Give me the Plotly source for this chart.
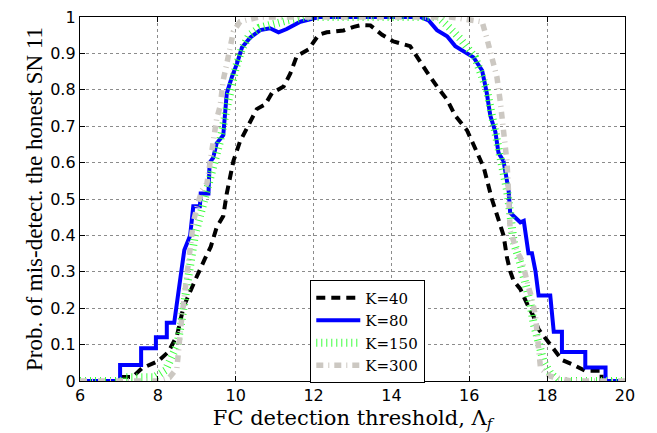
import plotly.graph_objects as go

# ---- data ----
k40_x = [6, 7.1, 7.1, 7.35, 7.59, 8.01, 8.27, 8.49, 8.66, 8.87, 9.0, 9.21, 9.36, 9.51, 9.68, 9.77, 9.94,
         10.11, 10.33, 10.54, 10.76, 10.93, 11.23, 11.4, 11.57, 11.87, 12.13, 12.34, 12.77, 13.03, 13.24,
         13.46, 13.76, 14.05, 14.48, 14.66, 14.91, 15.17, 15.43, 15.64, 15.94, 16.11, 16.37, 16.58, 16.71,
         16.88, 16.97, 17.05, 17.14, 17.31, 17.48, 17.65, 17.78, 18.04, 18.21, 18.38, 18.68, 18.98, 19.4,
         19.4, 20]
k40_y = [0, 0, 0.011, 0.011, 0.035, 0.055, 0.08, 0.124, 0.204, 0.258, 0.287, 0.336, 0.369, 0.422, 0.453,
         0.515, 0.604, 0.658, 0.702, 0.747, 0.76, 0.791, 0.809, 0.844, 0.893, 0.911, 0.951, 0.958, 0.963,
         0.973, 0.978, 0.977, 0.951, 0.933, 0.92, 0.889, 0.849, 0.809, 0.773, 0.729, 0.689, 0.649, 0.587,
         0.5, 0.453, 0.4, 0.338, 0.302, 0.275, 0.253, 0.213, 0.178, 0.142, 0.107, 0.084, 0.058, 0.044,
         0.028, 0.028, 0, 0]

k80_x = [6, 7.03, 7.03, 7.57, 7.57, 7.95, 7.95, 8.23, 8.23, 8.42, 8.61, 8.68, 8.83, 8.87, 8.91, 9.08,
         9.1, 9.3, 9.33, 9.42, 9.51, 9.68, 9.77, 9.9, 10.03, 10.16, 10.37, 10.63, 10.88, 11.1, 11.31, 11.66,
         12.0, 12.15, 14.74, 14.95, 15.17, 15.43, 15.64, 15.9, 16.11, 16.33, 16.45, 16.54, 16.67, 16.75,
         16.88, 17.01, 17.05, 17.18, 17.31, 17.4, 17.52, 17.61, 17.7, 17.78, 18.08, 18.17, 18.38, 18.38,
         18.98, 18.98, 19.5, 19.5, 20]
k80_y = [0, 0, 0.044, 0.044, 0.09, 0.09, 0.12, 0.12, 0.16, 0.16, 0.307, 0.36, 0.4, 0.453, 0.48, 0.48,
         0.515, 0.515, 0.6, 0.613, 0.653, 0.675, 0.79, 0.835, 0.871, 0.916, 0.943, 0.964, 0.969, 0.958,
         0.967, 0.987, 0.995, 1.0, 1.0, 0.991, 0.964, 0.947, 0.92, 0.902, 0.889, 0.853, 0.791, 0.729, 0.684,
         0.627, 0.604, 0.524, 0.462, 0.449, 0.436, 0.44, 0.351, 0.351, 0.302, 0.235, 0.235, 0.135, 0.135,
         0.08, 0.08, 0.037, 0.037, 0, 0]

k150_x = [6, 7.1, 7.1, 7.9, 8.2, 8.35, 8.5, 8.6, 8.68, 8.75, 8.85, 8.95, 9.05, 9.15, 9.3, 9.4, 9.5, 9.6,
          9.75, 9.85, 10.0, 10.15, 10.35, 10.6, 10.9, 11.3, 11.8, 15.2, 15.5, 15.77, 16.15, 16.45, 16.58,
          16.71, 16.84, 16.97, 17.05, 17.14, 17.31, 17.44, 17.57, 17.65, 17.78, 17.91, 18.08, 18.2, 18.3, 20]
k150_y = [0, 0, 0.01, 0.01, 0.03, 0.06, 0.1, 0.16, 0.22, 0.28, 0.33, 0.4, 0.44, 0.48, 0.52, 0.57, 0.62,
          0.66, 0.74, 0.8, 0.86, 0.91, 0.95, 0.97, 0.98, 0.99, 1.0, 1.0, 0.97, 0.94, 0.889, 0.8, 0.73,
          0.667, 0.587, 0.524, 0.462, 0.382, 0.324, 0.275, 0.213, 0.16, 0.098, 0.053, 0.022, 0.01, 0, 0]

k300_x = [6, 8.0, 8.3, 8.49, 8.59, 8.64, 8.70, 8.77, 8.85, 8.91, 9.02, 9.13, 9.26, 9.39, 9.51, 9.6, 9.68,
          9.77, 9.86, 9.94, 10.11, 10.37, 10.6, 15.5, 15.9, 16.1, 16.33, 16.45, 16.58, 16.71, 16.8, 16.88,
          16.92, 16.97, 17.01, 17.05, 17.23, 17.36, 17.52, 17.61, 17.7, 17.74, 17.78, 17.83, 18.08, 18.5,
          18.6, 20]
k300_y = [0, 0, 0.01, 0.035, 0.151, 0.195, 0.258, 0.329, 0.382, 0.436, 0.484, 0.524, 0.542, 0.64, 0.72,
          0.755, 0.827, 0.871, 0.924, 0.96, 0.987, 0.993, 1.0, 1.0, 0.995, 0.99, 0.987, 0.942, 0.889, 0.835,
          0.764, 0.693, 0.631, 0.6, 0.515, 0.413, 0.355, 0.329, 0.258, 0.227, 0.178, 0.133, 0.08, 0.035,
          0.013, 0.003, 0, 0]

x_ticks = [6, 8, 10, 12, 14, 16, 18, 20]
y_ticks = [0, 0.1, 0.2, 0.3, 0.4, 0.5, 0.6, 0.7, 0.8, 0.9, 1]
y_tick_text = ["0", "0.1", "0.2", "0.3", "0.4", "0.5", "0.6", "0.7", "0.8", "0.9", "1"]

SERIF_W = "DejaVu Serif"
SERIF = "Liberation Serif"
SANS = "DejaVu Sans"

fig = go.Figure()
fig.add_trace(go.Scatter(x=k40_x, y=k40_y, mode="lines", name="K=40",
                         line=dict(color="black", width=4, dash="9px,6px")))
fig.add_trace(go.Scatter(x=k80_x, y=k80_y, mode="lines", name="K=80",
                         line=dict(color="rgb(0,0,255)", width=4)))
fig.add_trace(go.Scatter(x=k150_x, y=k150_y, mode="lines", name="K=150",
                         line=dict(color="rgb(60,255,60)", width=8, dash="1px,4px")))
fig.add_trace(go.Scatter(x=k300_x, y=k300_y, mode="lines", name="K=300",
                         line=dict(color="rgb(204,200,194)", width=5.5, dash="7px,5px,1px,5px")))

axis_common = dict(showline=True, linecolor="black", linewidth=1.3, mirror="ticks",
                   ticks="inside", ticklen=5, tickcolor="black",
                   showgrid=True, gridcolor="rgb(140,140,140)", griddash="dot", gridwidth=1,
                   zeroline=False, ticklabeloverflow="allow",
                   tickfont=dict(family=SANS, size=16, color="black"))

fig.update_xaxes(range=[6, 20], tickvals=x_ticks,
                 title=dict(text="FC detection threshold, Λ<sub><i>f</i></sub>",
                            font=dict(family=SERIF_W, size=21, color="black"), standoff=5),
                 **axis_common)
fig.update_yaxes(range=[0, 1], tickvals=y_ticks, ticktext=y_tick_text,
                 title=dict(text="Prob. of mis-detect. the honest SN 11",
                            font=dict(family=SERIF, size=23, color="black"), standoff=1),
                 **axis_common)

fig.update_layout(
    width=657, height=433,
    margin=dict(l=80, r=32, t=8, b=50),
    paper_bgcolor="white", plot_bgcolor="white",
    showlegend=True,
    legend=dict(x=0.422, y=0.277, xanchor="left", yanchor="top",
                bgcolor="white", bordercolor="black", borderwidth=1.3,
                font=dict(family=SERIF_W, size=15, color="black"),
                itemwidth=44, tracegroupgap=0),
)

fig.write_html("out.html")
